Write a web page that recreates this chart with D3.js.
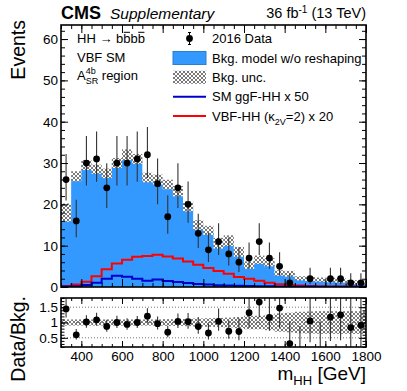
<!DOCTYPE html>
<meta charset="utf-8">
<html>
<style>
body { margin: 0; background: #fff; }
svg text { font-family: "Liberation Sans", Arial, Helvetica, sans-serif; }
</style>
<body>
<svg id="chart" width="407" height="391"></svg>
<script src="https://cdn.jsdelivr.net/npm/d3@7"></script>
<script>

// m_HH bins (low edges, GeV), 50 GeV wide
var binLow = [300,350,400,450,500,550,600,650,700,750,800,850,900,950,1000,
              1050,1100,1150,1200,1250,1300,1350,1400,1450,1500,1550,1600,1650,1700,1750];
var binWidth = 50;

// 2016 data counts
var dataCounts = [26,16,30,31,24,30,30,31,32,25,17,24,20,13,9,
                  11,8,6,7,11,7,5,1,0,2,0,2,2,1,1];

// background model w/o reshaping and its uncertainty
var bkgModel = [18,26.8,29.5,28.5,27.5,30,32,31,26.5,26,24.8,23.2,19.5,15,13.7,
                10.6,11.2,8.5,5.3,6.6,6,3.4,3.2,2.1,1.9,1.8,1.7,1.6,1.2,1.1];
var bkgUnc   = [2.2,1.2,1.2,1.1,1.15,1.2,1.3,1.2,1.15,1.2,1.15,1.25,1.2,1.15,1.1,
                1.3,1.3,1.2,0.9,1.0,1.0,0.65,0.7,0.5,0.5,0.5,0.55,0.55,0.5,0.5];
// relative band shown in the ratio panel
var ratioUnc = [0.1,0.1,0.1,0.1,0.1,0.1,0.1,0.1,0.1,0.1,0.11,0.11,0.12,0.13,0.14,
                0.15,0.16,0.18,0.22,0.22,0.25,0.3,0.32,0.35,0.36,0.37,0.37,0.37,0.37,0.37];

// signals (scaled)
var sigGGF = [0.1,0.2,0.5,1.0,2.0,2.7,2.5,2.0,1.5,1.8,1.45,1.2,0.95,0.75,0.6,
              0.45,0.35,0.3,0.25,0.2,0.18,0.15,0.12,0.1,0.1,0.08,0.07,0.06,0.05,0.05];
var sigVBF = [0.25,0.6,1.3,2.6,4.3,5.7,6.6,7.3,7.5,7.8,7.4,6.9,6.2,5.4,4.6,
              3.9,3.2,2.4,2.0,1.5,1.05,0.65,0.5,0.35,0.25,0.2,0.15,0.12,0.1,0.08];

var xTicks = [400,600,800,1000,1200,1400,1600,1800];
var yTicks = [0,10,20,30,40,50,60];
var rTicks = [0.5,1,1.5];

var svg = d3.select("#chart");
var padL = 61, padR = 366, padT = 25, padB = 287, rTop = 298, rBottom = 347;

var x = d3.scaleLinear().domain([300,1800]).range([padL,padR]);
var y = d3.scaleLinear().domain([0,63.4]).range([padB,padT]);
var yr = d3.scaleLinear().domain([0.2,1.8]).range([rBottom,rTop]);

// hatch pattern for the uncertainty band
var defs = svg.append("defs");
var pat = defs.append("pattern").attr("id","hatch")
  .attr("patternUnits","userSpaceOnUse").attr("width",4).attr("height",4);
pat.append("rect").attr("width",4).attr("height",4).attr("fill","#fff");
pat.append("path").attr("d","M0,0L4,4M4,0L0,4").attr("stroke","#6a6a6a").attr("stroke-width",0.9);
defs.append("clipPath").attr("id","clipMain").append("rect")
  .attr("x",padL).attr("y",padT).attr("width",padR-padL).attr("height",padB-padT);
defs.append("clipPath").attr("id","clipRatio").append("rect")
  .attr("x",padL).attr("y",rTop).attr("width",padR-padL).attr("height",rBottom-rTop);

// poisson-like errors
function errHi(n) { return Math.sqrt(n + 0.75) + 1; }
function errLo(n) { return n > 0 ? Math.sqrt(n - 0.25) : 0; }

function steps(vals) {
  var pts = [];
  vals.forEach(function(v,i){
    pts.push([binLow[i], v]);
    pts.push([binLow[i] + binWidth, v]);
  });
  return pts;
}

var bins = binLow.map(function(lo,i){
  return {lo: lo, c: lo + binWidth/2, n: dataCounts[i], b: bkgModel[i], u: bkgUnc[i], ru: ratioUnc[i]};
});

// ---------- main panel ----------
var main = svg.append("g").attr("clip-path","url(#clipMain)");

main.append("path")
  .datum(steps(bkgModel))
  .attr("fill","#3399ff")
  .attr("d", d3.area().x(function(d){return x(d[0]);}).y0(y(0)).y1(function(d){return y(d[1]);}));

main.selectAll("rect.band").data(bins).enter().append("rect")
  .attr("class","band")
  .attr("x", function(d){return x(d.lo);})
  .attr("width", function(d){return x(d.lo+binWidth)-x(d.lo);})
  .attr("y", function(d){return y(d.b+d.u);})
  .attr("height", function(d){return y(d.b-d.u)-y(d.b+d.u);})
  .attr("fill","url(#hatch)");

var stepLine = d3.line().x(function(d){return x(d[0]);}).y(function(d){return y(d[1]);});
main.append("path").datum(steps(sigVBF)).attr("d",stepLine)
  .attr("fill","none").attr("stroke","#ff0000").attr("stroke-width",2);
main.append("path").datum(steps(sigGGF)).attr("d",stepLine)
  .attr("fill","none").attr("stroke","#0000cc").attr("stroke-width",2);

var pts = bins.filter(function(d){return d.n > 0;});
main.selectAll("line.err").data(pts).enter().append("line")
  .attr("x1", function(d){return x(d.c);}).attr("x2", function(d){return x(d.c);})
  .attr("y1", function(d){return y(d.n + errHi(d.n));})
  .attr("y2", function(d){return y(d.n - errLo(d.n));})
  .attr("stroke","#333").attr("stroke-width",1.1);
main.selectAll("circle").data(pts).enter().append("circle")
  .attr("cx", function(d){return x(d.c);}).attr("cy", function(d){return y(d.n);})
  .attr("r",3.4).attr("fill","#000");

// ---------- ratio panel ----------
var rat = svg.append("g").attr("clip-path","url(#clipRatio)");

rat.selectAll("rect.rband").data(bins).enter().append("rect")
  .attr("x", function(d){return x(d.lo);})
  .attr("width", function(d){return x(d.lo+binWidth)-x(d.lo);})
  .attr("y", function(d){return yr(1+d.ru);})
  .attr("height", function(d){return yr(1-d.ru)-yr(1+d.ru);})
  .attr("fill","url(#hatch)");

rat.selectAll("line.grid").data(rTicks).enter().append("line")
  .attr("x1",padL).attr("x2",padR)
  .attr("y1", function(d){return yr(d);}).attr("y2", function(d){return yr(d);})
  .attr("stroke","#777").attr("stroke-width",1).attr("stroke-dasharray","1,2");

rat.selectAll("line.rerr").data(bins).enter().append("line")
  .attr("x1", function(d){return x(d.c);}).attr("x2", function(d){return x(d.c);})
  .attr("y1", function(d){return yr((d.n + errHi(d.n))/d.b);})
  .attr("y2", function(d){return yr((d.n - errLo(d.n))/d.b);})
  .attr("stroke","#333").attr("stroke-width",1.1);
rat.selectAll("circle").data(bins.filter(function(d){return d.n > 0;})).enter().append("circle")
  .attr("cx", function(d){return x(d.c);}).attr("cy", function(d){return yr(d.n/d.b);})
  .attr("r",3.4).attr("fill","#000");

// ---------- axes ----------
function tickAxis(g, axis, vals, size, labels, fmt) {
  axis.tickValues(vals).tickSizeInner(-size).tickSizeOuter(0);
  if (!labels) axis.tickFormat("");
  else axis.tickFormat(fmt || d3.format("d"));
  g.call(axis);
  g.select(".domain").remove();
  g.selectAll("line").attr("stroke","#000");
  g.attr("font-size",13.5).attr("font-family","Liberation Sans, Arial, sans-serif");
  g.selectAll("text").attr("fill","#000");
}
var xMinor = d3.range(300,1801,50), yMinor = d3.range(0,63,2), rMinor = d3.range(0.2,1.81,0.1);

// main panel
tickAxis(svg.append("g").attr("transform","translate(0,"+padB+")"), d3.axisBottom(x), xTicks, 8, false);
tickAxis(svg.append("g").attr("transform","translate(0,"+padB+")"), d3.axisBottom(x), xMinor, 4, false);
tickAxis(svg.append("g").attr("transform","translate(0,"+padT+")"), d3.axisTop(x), xTicks, 8, false);
tickAxis(svg.append("g").attr("transform","translate(0,"+padT+")"), d3.axisTop(x), xMinor, 4, false);
tickAxis(svg.append("g").attr("transform","translate("+padL+",0)"), d3.axisLeft(y).tickPadding(3), yTicks, 7, true);
tickAxis(svg.append("g").attr("transform","translate("+padL+",0)"), d3.axisLeft(y), yMinor, 4, false);
tickAxis(svg.append("g").attr("transform","translate("+padR+",0)"), d3.axisRight(y), yTicks, 7, false);
tickAxis(svg.append("g").attr("transform","translate("+padR+",0)"), d3.axisRight(y), yMinor, 4, false);

// ratio panel
tickAxis(svg.append("g").attr("transform","translate(0,"+rBottom+")"), d3.axisBottom(x).tickPadding(4), xTicks, 6, true);
tickAxis(svg.append("g").attr("transform","translate(0,"+rBottom+")"), d3.axisBottom(x), xMinor, 3, false);
tickAxis(svg.append("g").attr("transform","translate(0,"+rTop+")"), d3.axisTop(x), xTicks, 6, false);
tickAxis(svg.append("g").attr("transform","translate(0,"+rTop+")"), d3.axisTop(x), xMinor, 3, false);
tickAxis(svg.append("g").attr("transform","translate("+padL+",0)"), d3.axisLeft(yr).tickPadding(3), rTicks, 7, true,
  function(d){ return d === 1 ? "1" : String(d); });
tickAxis(svg.append("g").attr("transform","translate("+padL+",0)"), d3.axisLeft(yr), rMinor, 3.5, false);
tickAxis(svg.append("g").attr("transform","translate("+padR+",0)"), d3.axisRight(yr), rTicks, 7, false);
tickAxis(svg.append("g").attr("transform","translate("+padR+",0)"), d3.axisRight(yr), rMinor, 3.5, false);

// frames
svg.append("rect").attr("x",padL).attr("y",padT).attr("width",padR-padL).attr("height",padB-padT)
  .attr("fill","none").attr("stroke","#000").attr("stroke-width",1.6);
svg.append("rect").attr("x",padL).attr("y",rTop).attr("width",padR-padL).attr("height",rBottom-rTop)
  .attr("fill","none").attr("stroke","#000").attr("stroke-width",1.6);

// ---------- titles ----------
svg.append("text").attr("x",61).attr("y",18.5).attr("font-size",18).attr("font-weight","bold").text("CMS");
svg.append("text").attr("x",110).attr("y",18.5).attr("font-size",15.5).attr("font-style","italic").text("Supplementary");
var lumi = svg.append("text").attr("x",366).attr("y",17.5).attr("font-size",14.5).attr("text-anchor","end");
lumi.append("tspan").text("36 fb");
lumi.append("tspan").attr("font-size",10).attr("dy",-5).text("-1");
lumi.append("tspan").attr("dy",5).text(" (13 TeV)");

svg.append("text").attr("transform","translate(25,20) rotate(-90)").attr("text-anchor","end")
  .attr("font-size",19.5).text("Events");
svg.append("text").attr("transform","translate(25,296) rotate(-90)").attr("text-anchor","end")
  .attr("font-size",19.5).text("Data/Bkg.");
var xt = svg.append("text").attr("x",366).attr("y",380).attr("text-anchor","end").attr("font-size",19);
xt.append("tspan").text("m");
xt.append("tspan").attr("font-size",13).attr("dy",5).text("HH");
xt.append("tspan").attr("dy",-5).text(" [GeV]");

// process / region label
var info = svg.append("g").attr("font-size",13);
var t1 = info.append("text").attr("x",77).attr("y",43).text("HH \u2192 bbbb");
// overline on the anti-b quarks
[6, 8].forEach(function(i){
  var a = t1.node().getStartPositionOfChar(i).x, b = t1.node().getEndPositionOfChar(i).x;
  info.append("line").attr("x1",a+0.5).attr("x2",b-0.5).attr("y1",32.3).attr("y2",32.3)
    .attr("stroke","#000").attr("stroke-width",1);
});
info.append("text").attr("x",77).attr("y",62).text("VBF SM");
var t3 = info.append("text").attr("x",77).attr("y",80);
t3.append("tspan").text("A");
t3.append("tspan").attr("font-size",9).attr("dy",-6).text("4b");
t3.append("tspan").attr("font-size",9).attr("dx",-10).attr("dy",10).text("SR");
t3.append("tspan").attr("dy",-4).text(" region");

// ---------- legend ----------
var leg = svg.append("g").attr("font-size",13);
var rows = [38.5, 58, 77.3, 96.7, 116];
var lx0 = 173, lx1 = 206, tx = 212;
// data
leg.append("line").attr("x1",189.5).attr("x2",189.5).attr("y1",rows[0]-6).attr("y2",rows[0]+6).attr("stroke","#000");
leg.append("line").attr("x1",188).attr("x2",191).attr("y1",rows[0]-6).attr("y2",rows[0]-6).attr("stroke","#000");
leg.append("line").attr("x1",188).attr("x2",191).attr("y1",rows[0]+6).attr("y2",rows[0]+6).attr("stroke","#000");
leg.append("circle").attr("cx",189.5).attr("cy",rows[0]).attr("r",3.4).attr("fill","#000");
leg.append("text").attr("x",tx).attr("y",rows[0]+4.5).text("2016 Data");
// bkg
leg.append("rect").attr("x",lx0).attr("y",rows[1]-6.5).attr("width",lx1-lx0).attr("height",13)
  .attr("fill","#3399ff").attr("stroke","#2a7fd0").attr("stroke-width",1);
leg.append("text").attr("x",tx).attr("y",rows[1]+4.5).text("Bkg. model w/o reshaping");
leg.append("rect").attr("x",lx0).attr("y",rows[2]-6.5).attr("width",lx1-lx0).attr("height",13)
  .attr("fill","url(#hatch)");
leg.append("text").attr("x",tx).attr("y",rows[2]+4.5).text("Bkg. unc.");
leg.append("line").attr("x1",lx0).attr("x2",lx1).attr("y1",rows[3]).attr("y2",rows[3])
  .attr("stroke","#0000cc").attr("stroke-width",2);
leg.append("text").attr("x",tx).attr("y",rows[3]+4.5).text("SM ggF-HH x 50");
leg.append("line").attr("x1",lx0).attr("x2",lx1).attr("y1",rows[4]).attr("y2",rows[4])
  .attr("stroke","#ff0000").attr("stroke-width",2);
var lt = leg.append("text").attr("x",tx).attr("y",rows[4]+4.5);
lt.append("tspan").text("VBF-HH (\u03ba");
lt.append("tspan").attr("font-size",9).attr("dy",4).text("2V");
lt.append("tspan").attr("dy",-4).text("=2) x 20");

</script>
</body>
</html>
